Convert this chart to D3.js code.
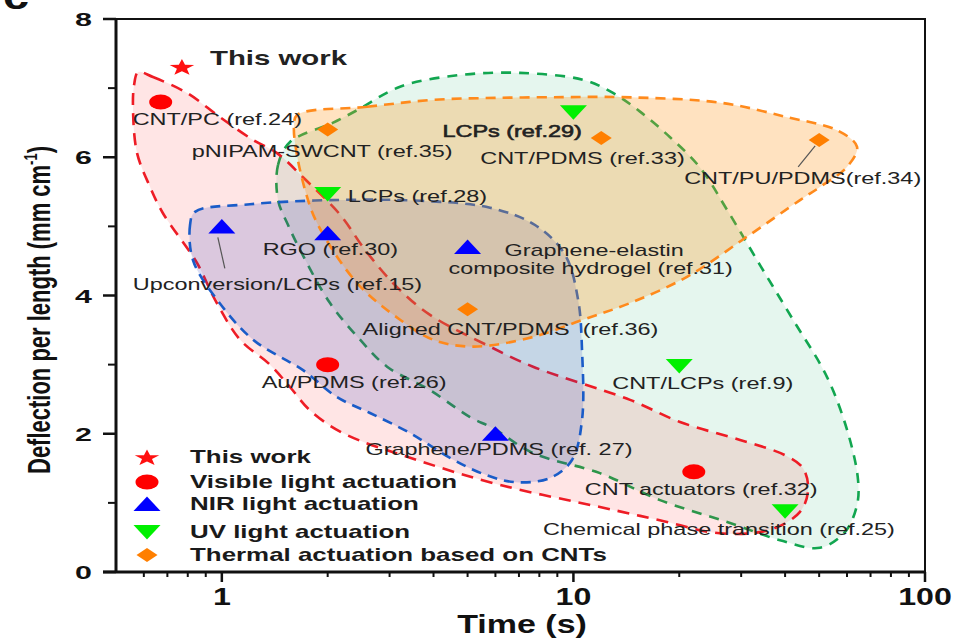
<!DOCTYPE html>
<html><head><meta charset="utf-8">
<script src="https://cdn.jsdelivr.net/npm/d3@7"></script>
<style>body{margin:0;background:#fff;overflow:hidden} text{font-family:"Liberation Sans",Arial,sans-serif}</style>
</head><body><svg id="c" width="956" height="639"></svg>
<script>
// ---------------- data ----------------
const categories = ["This work", "Visible light actuation", "NIR light actuation", "UV light actuation", "Thermal actuation based on CNTs"];
const thisWork = [{name: "This work", t: 0.77, d: 7.31}];
const visible = [
  {name: "CNT/PC (ref.24)", t: 0.67, d: 6.80},
  {name: "Au/PDMS (ref.26)", t: 2.0, d: 3.0},
  {name: "CNT actuators (ref.32)", t: 22, d: 1.45}
];
const nir = [
  {name: "Upconversion/LCPs (ref.15)", t: 1.0, d: 5.0},
  {name: "RGO (ref.30)", t: 2.0, d: 4.9},
  {name: "Graphene-elastin|composite hydrogel (ref.31)", t: 5.0, d: 4.7},
  {name: "Graphene/PDMS (ref. 27)", t: 6.0, d: 2.0}
];
const uv = [
  {name: "LCPs (ref.29)", t: 10, d: 6.65},
  {name: "LCPs (ref.28)", t: 2.0, d: 5.47},
  {name: "CNT/LCPs (ref.9)", t: 20, d: 2.98},
  {name: "Chemical phase transition (ref.25)", t: 40, d: 0.88}
];
const thermal = [
  {name: "pNIPAM-SWCNT (ref.35)", t: 2.0, d: 6.4},
  {name: "CNT/PDMS (ref.33)", t: 12, d: 6.28},
  {name: "CNT/PU/PDMS(ref.34)", t: 50, d: 6.25},
  {name: "Aligned CNT/PDMS  (ref.36)", t: 5.0, d: 3.8}
];
// region outlines [time, deflection]
const redRegion = [[0.578,7.23],[0.637,7.16],[0.796,6.93],[0.988,6.58],[1.227,6.25],[1.436,6.06],[1.702,5.71],[2.169,5.17],[2.555,4.66],[3.109,4.15],[3.910,3.72],[5.792,3.26],[7.676,2.97],[14.49,2.49],[20.10,2.17],[29.78,1.91],[39.98,1.69],[45.0,1.50],[46.5,1.19],[44.1,0.87],[36.2,0.61],[26.1,0.56],[17.6,0.75],[11.9,0.94],[6.18,1.26],[3.59,1.62],[2.21,2.01],[1.78,2.34],[1.56,2.68],[1.37,3.00],[1.127,3.36],[0.956,3.94],[0.850,4.47],[0.680,5.19],[0.625,5.57],[0.574,6.06],[0.559,6.68],[0.563,7.05]];
const blueRegion = [[0.839,5.21],[0.812,5.02],[0.828,4.51],[0.969,3.94],[1.227,3.36],[1.702,2.92],[2.127,2.53],[2.639,2.30],[3.429,2.01],[4.457,1.65],[5.533,1.42],[6.824,1.30],[8.578,1.36],[9.908,1.62],[10.58,2.20],[10.58,3.21],[10.31,3.94],[9.465,4.59],[7.779,5.02],[5.792,5.27],[3.663,5.37],[2.031,5.38],[1.203,5.32]];
const greenRegion = [[1.445,5.38],[1.445,5.89],[1.563,6.22],[2.074,6.50],[2.424,6.68],[3.213,7.02],[4.760,7.19],[7.050,7.22],[10.65,7.12],[12.96,6.93],[15.47,6.66],[18.83,6.29],[22.92,5.85],[27.35,5.24],[33.94,4.44],[42.13,3.65],[52.65,2.82],[60.40,2.01],[64.50,1.33],[64.08,0.97],[59.23,0.58],[50.27,0.35],[38.68,0.46],[27.89,0.71],[17.63,1.04],[11.90,1.43],[7.676,1.72],[5.907,2.08],[5.081,2.24],[3.910,2.63],[2.951,2.97],[2.473,3.36],[2.031,3.89],[1.669,4.66],[1.543,5.02]];
const orangeRegion = [[1.636,6.61],[2.588,6.73],[3.988,6.83],[6.183,6.86],[9.590,6.87],[13.57,6.87],[26.12,6.79],[40.50,6.58],[56.20,6.39],[64.08,6.15],[60.0,5.86],[50.27,5.57],[44.12,5.38],[31.17,4.85],[21.04,4.27],[14.49,3.89],[10.65,3.65],[7.676,3.40],[5.182,3.26],[3.988,3.36],[3.213,3.65],[2.424,4.18],[1.865,5.05],[1.724,5.53],[1.626,6.11],[1.604,6.44]];
const xMajorTicks = [1, 10, 100];
const xMinorTicks = [0.6,0.7,0.8,0.9,2,3,4,5,6,7,8,9,20,30,40,50,60,70,80,90];
const yMajorTicks = [0, 2, 4, 6, 8];
const yMinorTicks = [1, 3, 5, 7];

// ---------------- layout ----------------
const svg = d3.select("#c");
const L = 116, R = 925, T = 19, B = 572;
const x = d3.scaleLog().domain([0.5, 100]).range([L, R]);
const y = d3.scaleLinear().domain([0, 8]).range([B, T]);

// label offsets (px) relative to each marker
const labelOffsets = {
  "This work": [28, -2],
  "CNT/PC (ref.24)": [-28, 23],
  "Au/PDMS (ref.26)": [-66, 23],
  "CNT actuators (ref.32)": [-109, 23],
  "Upconversion/LCPs (ref.15)": [-89, 64],
  "RGO (ref.30)": [-65, 22],
  "Graphene-elastin|composite hydrogel (ref.31)": [[37, 9], [-19, 27]],
  "Graphene/PDMS (ref. 27)": [-130, 21],
  "LCPs (ref.29)": [-131, 25],
  "LCPs (ref.28)": [20, 8],
  "CNT/LCPs (ref.9)": [-67, 23],
  "Chemical phase transition (ref.25)": [-242, 24],
  "pNIPAM-SWCNT (ref.35)": [-136, 27],
  "CNT/PDMS (ref.33)": [-121, 26],
  "CNT/PU/PDMS(ref.34)": [-135, 44],
  "Aligned CNT/PDMS  (ref.36)": [-105, 26]
};

function sText(g, px, py, txt, size, weight, sx, anchor, fill) {
  return g.append("text")
    .attr("transform", `translate(${px},${py}) scale(${sx},1)`)
    .attr("font-size", size).attr("font-weight", weight)
    .attr("text-anchor", anchor || "start")
    .attr("fill", fill || "#222")
    .style("white-space", "pre")
    .text(txt);
}

// ---------------- regions ----------------
const area = d3.line().x(p => x(p[0])).y(p => y(p[1])).curve(d3.curveCatmullRomClosed.alpha(0.5));
const regions = [
  {pts: greenRegion, fill: "rgba(0,170,90,0.10)", stroke: "#12a650", dash: "10,8"},
  {pts: redRegion, fill: "rgba(255,40,40,0.12)", stroke: "#ee1c25", dash: "12,8"},
  {pts: blueRegion, fill: "rgba(40,60,190,0.17)", stroke: "#1a5cc8", dash: "10,7"},
  {pts: orangeRegion, fill: "rgba(255,150,30,0.28)", stroke: "#ff8a1c", dash: "10,7"}
];
const gReg = svg.append("g");
regions.forEach(r => {
  gReg.append("path").attr("d", area(r.pts)).attr("fill", r.fill)
    .attr("stroke", r.stroke).attr("stroke-width", 2.6).attr("stroke-dasharray", r.dash);
});

// ---------------- axes / frame ----------------
const gAx = svg.append("g").attr("stroke", "#111");
gAx.append("rect").attr("x", L).attr("y", T).attr("width", R - L).attr("height", B - T)
  .attr("fill", "none").attr("stroke-width", 2);
gAx.append("line").attr("x1", L).attr("x2", L).attr("y1", T).attr("y2", B).attr("stroke-width", 3);
gAx.append("line").attr("x1", L - 13).attr("x2", R).attr("y1", B).attr("y2", B).attr("stroke-width", 3);
xMajorTicks.forEach(v => gAx.append("line").attr("x1", x(v)).attr("x2", x(v)).attr("y1", B).attr("y2", B + 10).attr("stroke-width", 2.5));
xMinorTicks.forEach(v => gAx.append("line").attr("x1", x(v)).attr("x2", x(v)).attr("y1", B).attr("y2", B + 5).attr("stroke-width", 2));
yMajorTicks.forEach(v => gAx.append("line").attr("x1", L - 13).attr("x2", L).attr("y1", y(v)).attr("y2", y(v)).attr("stroke-width", 2.5));
yMinorTicks.forEach(v => gAx.append("line").attr("x1", L - 8).attr("x2", L).attr("y1", y(v)).attr("y2", y(v)).attr("stroke-width", 2));

const gT = svg.append("g");
xMajorTicks.forEach(v => sText(gT, x(v), 605, String(v), 23, "bold", 1.4, "middle", "#111"));
yMajorTicks.forEach(v => sText(gT, 92, y(v) + 7, String(v), 19, "bold", 1.6, "end", "#111"));
sText(gT, 522, 633, "Time (s)", 25, "bold", 1.36, "middle", "#111");
const yt = gT.append("text").attr("transform", "translate(50,310) scale(1.4,1) rotate(-90)")
  .attr("font-size", 22).attr("font-weight", "bold").attr("text-anchor", "middle").attr("fill", "#111");
yt.append("tspan").text("Deflection per length (mm cm");
yt.append("tspan").attr("dy", -9).attr("font-size", 13).text("-1");
yt.append("tspan").attr("dy", 9).text(")");
sText(gT, 3, 9, "c", 36, "bold", 1.3, "start", "#111");

// ---------------- markers ----------------
const shapes = {
  star: (() => { const pts = []; for (let i = 0; i < 10; i++) { const a = -Math.PI / 2 + i * Math.PI / 5; const r = i % 2 ? 3.5 : 8.6; pts.push([1.5 * r * Math.cos(a), r * Math.sin(a) + 1]); } return "M" + pts.join("L") + "Z"; })(),
  circle: null,
  up: "M0,-7.5L13.5,7L-13.5,7Z",
  down: "M-13.5,-7L13.5,-7L0,7.5Z",
  diamond: "M0,-7L10.5,0L0,7L-10.5,0Z"
};
const series = [
  {data: thisWork, shape: "star", color: "#ff1010"},
  {data: visible, shape: "circle", color: "#ff0000"},
  {data: nir, shape: "up", color: "#0000ff"},
  {data: uv, shape: "down", color: "#00f000"},
  {data: thermal, shape: "diamond", color: "#ff7f00"}
];
function drawShape(g, shape, color, cx, cy) {
  if (shape === "circle") g.append("ellipse").attr("cx", cx).attr("cy", cy).attr("rx", 11.5).attr("ry", 7.5).attr("fill", color);
  else g.append("path").attr("d", shapes[shape]).attr("transform", `translate(${cx},${cy})`).attr("fill", color);
}

// leader lines
const gLead = svg.append("g").attr("stroke", "#555").attr("stroke-width", 1.2);
const up15 = nir[0];
gLead.append("line").attr("x1", x(up15.t) - 4).attr("y1", y(up15.d) + 11).attr("x2", x(up15.t) + 3).attr("y2", y(up15.d) + 42);
const pu34 = thermal[2];
gLead.append("line").attr("x1", x(pu34.t) - 4).attr("y1", y(pu34.d) + 6).attr("x2", x(pu34.t) - 21).attr("y2", y(pu34.d) + 27);

const gM = svg.append("g");
const gL = svg.append("g");
series.forEach(s => {
  s.data.forEach(p => {
    const cx = x(p.t), cy = y(p.d);
    drawShape(gM, s.shape, s.color, cx, cy);
    const off = labelOffsets[p.name];
    if (p.name === "This work") {
      sText(gL, cx + off[0], cy + off[1], p.name, 21, "bold", 1.4);
    } else if (p.name.includes("|")) {
      const parts = p.name.split("|");
      parts.forEach((t, i) => sText(gL, cx + off[i][0], cy + off[i][1], t, 16, "normal", 1.46));
    } else {
      const t = sText(gL, cx + off[0], cy + off[1], p.name, 17, "normal", 1.38);
      if (p.name === "LCPs (ref.29)") t.attr("stroke", "#222").attr("stroke-width", 0.6);
    }
  });
});

// ---------------- legend ----------------
const legY = [457, 482, 504, 532, 555];
const gLeg = svg.append("g");
series.forEach((s, i) => {
  drawShape(gLeg, s.shape, s.color, 147, legY[i]);
  sText(gLeg, 190, legY[i] + 6, categories[i], 18, "bold", 1.44, "start", "#1a1a1a");
});
</script></body></html>
